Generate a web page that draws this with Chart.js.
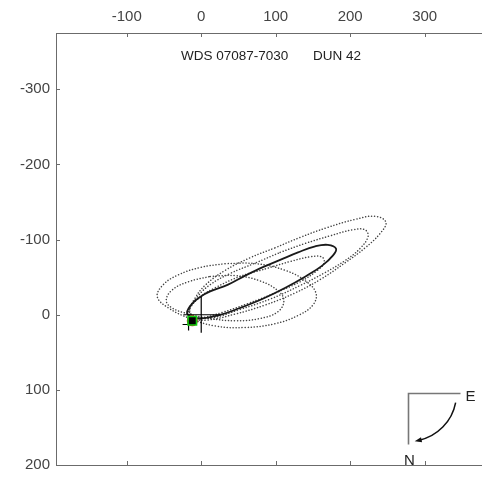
<!DOCTYPE html>
<html>
<head>
<meta charset="utf-8">
<title>WDS 07087-7030 DUN 42</title>
<script src="https://cdn.jsdelivr.net/npm/chart.js@4.4.1/dist/chart.umd.min.js"></script>
<style>
  html, body { margin: 0; padding: 0; background: #fff; overflow: hidden; }
</style>
</head>
<body>
<canvas id="orbitChart" width="482" height="477"></canvas>
<script>
(function () {
    'use strict';

    // ── Axis ticks (y grows downward = north) ─────────────────────
    const X_TICKS = [-100, 0, 100, 200, 300];
    const Y_TICKS = [-300, -200, -100, 0, 100, 200];

    // ── Adopted orbit (solid) ─────────────────────────────────────
    const ORBIT_MAIN = [
        [82, -63], [106, -73], [130, -83], [153, -91], [170, -93], [181, -88],
        [177, -79], [162, -65], [140, -51], [113, -36], [82, -21], [52, -9],
        [23, 1], [-1, 5], [-13, 3], [-19, -3], [-12, -15], [-1, -24],
        [12, -31], [36, -40], [59, -52], [82, -63]
    ];

    // ── Earlier / alternative orbits (dotted) ─────────────────────
    const ORBIT_ALT_1 = [
        [99, -89], [133, -103], [169, -116], [207, -127], [234, -131], [248, -123],
        [240, -108], [220, -89], [193, -69], [160, -47], [126, -29], [86, -13],
        [46, -1], [9, 7], [-11, 5], [-17, -3], [-9, -21], [5, -39],
        [32, -59], [66, -76], [99, -89]
    ];
    const ORBIT_ALT_2 = [
        [106, -83], [140, -95], [173, -105], [203, -113], [220, -113], [224, -104],
        [213, -88], [193, -72], [166, -56], [133, -39], [93, -21], [52, -7],
        [15, 4], [-8, 3], [-16, -5], [-5, -24], [12, -40], [39, -55],
        [73, -69], [106, -83]
    ];
    const ORBIT_ALT_3 = [
        [86, -61], [120, -71], [146, -77], [162, -77], [165, -69], [156, -59],
        [133, -44], [99, -29], [63, -15], [28, -3], [-1, 4], [-12, 1],
        [-15, -8], [-1, -24], [19, -36], [52, -51], [86, -61]
    ];
    const ORBIT_ALT_4 = [
        [32, -68], [73, -68], [113, -59], [140, -45], [154, -29], [150, -13],
        [130, 1], [99, 12], [59, 17], [19, 15], [-15, 5], [-44, -9],
        [-59, -24], [-51, -40], [-31, -53], [-1, -63], [32, -68]
    ];
    const ORBIT_ALT_5 = [
        [12, -51], [46, -52], [79, -45], [103, -32], [111, -19], [103, -4],
        [79, 5], [46, 8], [12, 5], [-17, -1], [-39, -9], [-47, -19],
        [-39, -33], [-17, -44], [12, -51]
    ];

    // ── Primary cross and measured position ───────────────────────
    const CROSS_H = [[-24, 0], [25, 0]];
    const CROSS_V = [[0, -24], [0, 24]];
    const MEASURE = [[-12, 8]];
    const MEASURE_PLUS = [[-17, 13]];

    const AXIS_COLOR = '#6b6b6b';
    const LABEL_COLOR = '#444';
    const FONT = '"Liberation Sans", Arial, Helvetica, sans-serif';

    function pts(list) {
        return list.map(function (p) { return { x: p[0], y: p[1] }; });
    }

    function dotted(list) {
        return {
            data: pts(list), showLine: true, pointRadius: 0, tension: 0.4,
            borderColor: '#444', borderWidth: 1.5, borderDash: [0.1, 2.9],
            borderCapStyle: 'round', order: 5
        };
    }

    // ── Frame, inward ticks, tick labels, title and compass ───────
    const decor = {
        id: 'decor',
        afterDraw: function (chart) {
            const ctx = chart.ctx, a = chart.chartArea;
            const sx = chart.scales.x, sy = chart.scales.y;
            ctx.save();
            ctx.strokeStyle = AXIS_COLOR;
            ctx.lineWidth = 1;
            ctx.beginPath();
            ctx.moveTo(a.left, a.bottom + 0.5);
            ctx.lineTo(a.right, a.bottom + 0.5);
            X_TICKS.forEach(function (v) {
                const px = Math.round(sx.getPixelForValue(v)) + 0.5;
                ctx.moveTo(px, a.top); ctx.lineTo(px, a.top + 4);
                ctx.moveTo(px, a.bottom); ctx.lineTo(px, a.bottom - 4);
            });
            Y_TICKS.forEach(function (v) {
                const py = Math.round(sy.getPixelForValue(v)) + 0.5;
                ctx.moveTo(a.left, py); ctx.lineTo(a.left + 4, py);
            });
            ctx.stroke();

            // tick labels
            ctx.fillStyle = LABEL_COLOR;
            ctx.font = '15px ' + FONT;
            ctx.textBaseline = 'middle';
            ctx.textAlign = 'center';
            X_TICKS.forEach(function (v) {
                ctx.fillText(String(v), sx.getPixelForValue(v), a.top - 16);
            });
            ctx.textAlign = 'right';
            Y_TICKS.forEach(function (v) {
                ctx.fillText(String(v), a.left - 6, sy.getPixelForValue(v));
            });

            // title
            ctx.fillStyle = '#222';
            ctx.font = '13.5px ' + FONT;
            ctx.textAlign = 'left';
            ctx.fillText('WDS 07087-7030', a.left + 125, a.top + 23);
            ctx.fillText('DUN 42', a.left + 257, a.top + 23);

            // compass: north down, east to the right
            const cx = Math.round(sx.getPixelForValue(278)) + 0.5;
            const cy = Math.round(sy.getPixelForValue(104)) + 0.5;
            ctx.strokeStyle = '#777';
            ctx.lineWidth = 1.6;
            ctx.beginPath();
            ctx.moveTo(cx + 52, cy); ctx.lineTo(cx, cy); ctx.lineTo(cx, cy + 51);
            ctx.stroke();
            ctx.fillStyle = '#222';
            ctx.font = '15px ' + FONT;
            ctx.textAlign = 'left';
            ctx.fillText('E', cx + 57, cy + 3);
            ctx.textAlign = 'center';
            ctx.fillText('N', cx + 1, cy + 67);

            const r = 48, t0 = 0.19, t1 = 1.36;
            ctx.strokeStyle = '#111';
            ctx.lineWidth = 1.5;
            ctx.beginPath();
            ctx.arc(cx, cy, r, t0, t1);
            ctx.stroke();
            const ex = cx + r * Math.cos(t1 + 0.04), ey = cy + r * Math.sin(t1 + 0.04);
            const tx = -Math.sin(t1), ty = Math.cos(t1);
            const nx = -ty, ny = tx;
            ctx.fillStyle = '#111';
            ctx.beginPath();
            ctx.moveTo(ex + tx * 2, ey + ty * 2);
            ctx.lineTo(ex - tx * 5 + nx * 2.5, ey - ty * 5 + ny * 2.5);
            ctx.lineTo(ex - tx * 5 - nx * 2.5, ey - ty * 5 - ny * 2.5);
            ctx.closePath();
            ctx.fill();
            ctx.restore();
        }
    };

    new Chart(document.getElementById('orbitChart'), {
        type: 'scatter',
        data: {
            datasets: [
                dotted(ORBIT_ALT_1),
                dotted(ORBIT_ALT_2),
                dotted(ORBIT_ALT_3),
                dotted(ORBIT_ALT_4),
                dotted(ORBIT_ALT_5),
                {
                    data: pts(ORBIT_MAIN), showLine: true, pointRadius: 0, tension: 0.4,
                    borderColor: '#1a1a1a', borderWidth: 1.8, order: 4
                },
                {
                    data: pts(CROSS_H), showLine: true, pointRadius: 0,
                    borderColor: '#000', borderWidth: 1.2, order: 3
                },
                {
                    data: pts(CROSS_V), showLine: true, pointRadius: 0,
                    borderColor: '#000', borderWidth: 1.2, order: 3
                },
                {
                    data: pts(MEASURE_PLUS), pointStyle: 'cross', pointRadius: 6,
                    borderColor: '#000', borderWidth: 1.2, order: 2
                },
                {
                    data: pts(MEASURE), pointStyle: 'circle', pointRadius: 5.5,
                    backgroundColor: '#d01010', borderColor: '#d01010', borderWidth: 0, order: 1
                },
                {
                    data: pts(MEASURE), pointStyle: 'rect', pointRadius: 6,
                    backgroundColor: '#000', borderColor: '#10d010', borderWidth: 1.6, order: 0
                }
            ]
        },
        options: {
            responsive: false,
            animation: false,
            events: [],
            layout: { autoPadding: false, padding: { left: 0, right: 0, top: 0, bottom: 12 } },
            plugins: { legend: { display: false }, tooltip: { enabled: false } },
            scales: {
                x: {
                    type: 'linear', position: 'top', min: -195, max: 377,
                    afterFit: function (s) { s.height = 33; s.paddingLeft = 0; s.paddingRight = 0; },
                    afterBuildTicks: function (s) { s.ticks = X_TICKS.map(function (v) { return { value: v }; }); },
                    grid: { display: false },
                    border: { display: true, color: AXIS_COLOR, width: 1 },
                    ticks: { display: false }
                },
                y: {
                    type: 'linear', position: 'left', reverse: true, min: -375, max: 200,
                    afterFit: function (s) { s.width = 56; s.paddingTop = 0; s.paddingBottom = 0; },
                    afterBuildTicks: function (s) { s.ticks = Y_TICKS.map(function (v) { return { value: v }; }); },
                    grid: { display: false },
                    border: { display: true, color: AXIS_COLOR, width: 1 },
                    ticks: { display: false }
                }
            }
        },
        plugins: [decor]
    });
})();
</script>
</body>
</html>
